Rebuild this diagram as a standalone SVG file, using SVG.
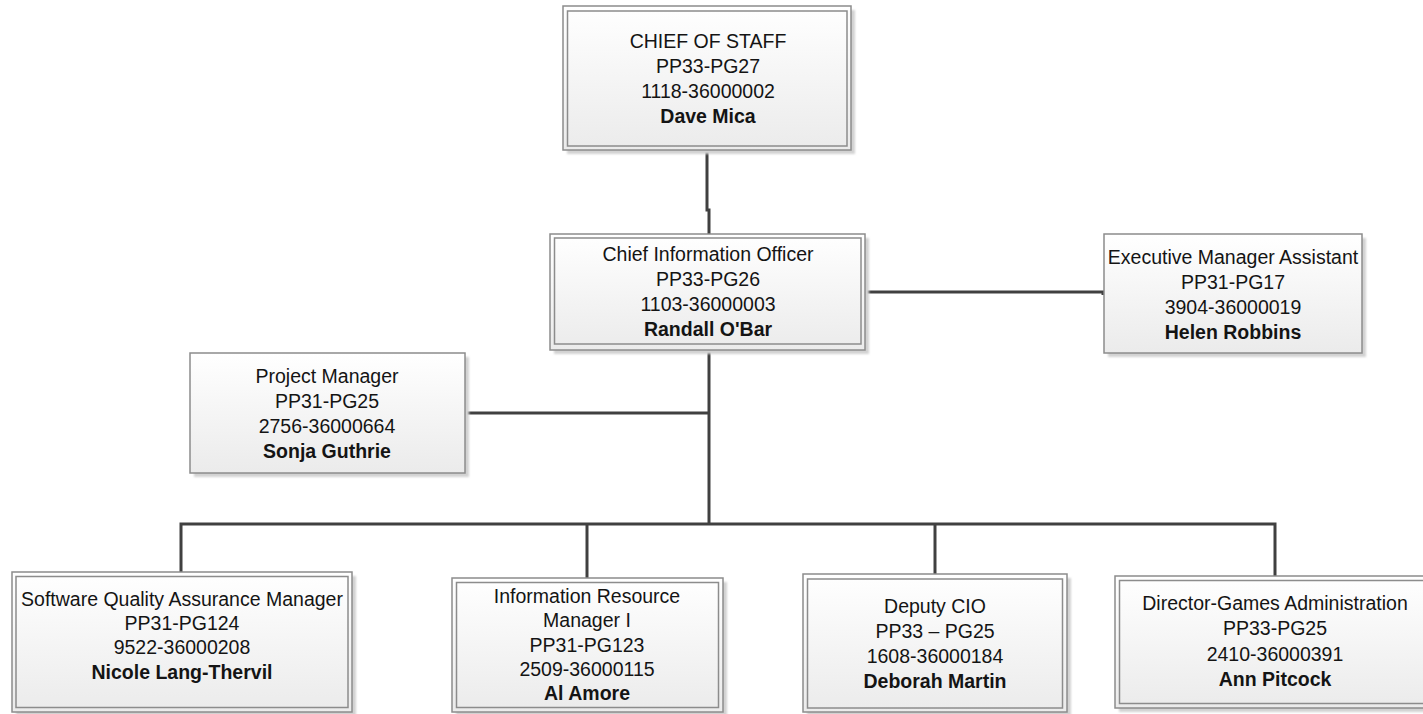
<svg xmlns="http://www.w3.org/2000/svg" width="1423" height="714" viewBox="0 0 1423 714">
  <style>
    .box { fill: url(#boxFill); stroke: #8c8c8c; stroke-width: 1.5; }
    .inner { fill: none; stroke: #8c8c8c; stroke-width: 1.5; }
    .shadow { fill: #d2d2d2; filter: url(#soft); }
    .lbl { font-family: "Liberation Sans", Arial, sans-serif; font-size: 19.5px; fill: #141414; text-anchor: middle; }
    .name { font-weight: bold; }
    .wire { fill: none; stroke: #404040; stroke-width: 3; stroke-linejoin: miter; }
  </style>
  <defs>
    <linearGradient id="boxFill" x1="0" y1="0" x2="0" y2="1">
      <stop offset="0" stop-color="#ffffff"/>
      <stop offset="1" stop-color="#ebebeb"/>
    </linearGradient>
    <filter id="soft" x="-5%" y="-5%" width="110%" height="110%">
      <feGaussianBlur stdDeviation="1.2"/>
    </filter>
  </defs>
  <rect width="1423" height="714" fill="#ffffff"/>

  <!-- reporting lines -->
  <g id="connectors">
    <polyline class="wire" points="707,150 707,210 709,210 709,234"/>
    <polyline class="wire" points="865,292 1103,292 1103,295"/>
    <line class="wire" x1="709" y1="350" x2="709" y2="524"/>
    <line class="wire" x1="465" y1="413" x2="709" y2="413"/>
    <polyline class="wire" points="181,572 181,524 1275,524 1275,576"/>
    <line class="wire" x1="587" y1="524" x2="587" y2="578"/>
    <line class="wire" x1="935" y1="524" x2="935" y2="574"/>
  </g>

  <g id="chief-of-staff">
    <rect class="shadow" x="567" y="10" width="288" height="144"/>
    <rect class="box" x="563" y="6" width="288" height="144"/>
    <rect class="inner" x="567.5" y="11" width="279.5" height="135"/>
    <text class="lbl" x="708" y="48">CHIEF OF STAFF</text>
    <text class="lbl" x="708" y="73">PP33-PG27</text>
    <text class="lbl" x="708" y="98">1118-36000002</text>
    <text class="lbl name" x="708" y="123">Dave Mica</text>
  </g>

  <g id="cio">
    <rect class="shadow" x="554" y="238" width="315" height="116"/>
    <rect class="box" x="550" y="234" width="315" height="116"/>
    <rect class="inner" x="554.5" y="238" width="306.5" height="106"/>
    <text class="lbl" x="708" y="261">Chief Information Officer</text>
    <text class="lbl" x="708" y="286">PP33-PG26</text>
    <text class="lbl" x="708" y="311">1103-36000003</text>
    <text class="lbl name" x="708" y="336">Randall O'Bar</text>
  </g>

  <g id="exec-assistant">
    <rect class="shadow" x="1108" y="238" width="258" height="119"/>
    <rect class="box" x="1104" y="234" width="258" height="119"/>
    <text class="lbl" x="1233" y="264">Executive Manager Assistant</text>
    <text class="lbl" x="1233" y="289">PP31-PG17</text>
    <text class="lbl" x="1233" y="314">3904-36000019</text>
    <text class="lbl name" x="1233" y="339">Helen Robbins</text>
  </g>

  <g id="project-manager">
    <rect class="shadow" x="194" y="357" width="275" height="120"/>
    <rect class="box" x="190" y="353" width="275" height="120"/>
    <text class="lbl" x="327" y="383">Project Manager</text>
    <text class="lbl" x="327" y="408">PP31-PG25</text>
    <text class="lbl" x="327" y="433">2756-36000664</text>
    <text class="lbl name" x="327" y="458">Sonja Guthrie</text>
  </g>

  <g id="sqa-manager">
    <rect class="shadow" x="16" y="576" width="340" height="140"/>
    <rect class="box" x="12" y="572" width="340" height="140"/>
    <rect class="inner" x="16" y="576.5" width="332" height="131"/>
    <text class="lbl" x="182" y="606">Software Quality Assurance Manager</text>
    <text class="lbl" x="182" y="630">PP31-PG124</text>
    <text class="lbl" x="182" y="654">9522-36000208</text>
    <text class="lbl name" x="182" y="679">Nicole Lang-Thervil</text>
  </g>

  <g id="info-resource-manager">
    <rect class="shadow" x="456" y="582" width="271" height="134"/>
    <rect class="box" x="452" y="578" width="271" height="134"/>
    <rect class="inner" x="456.5" y="582.5" width="262" height="125"/>
    <text class="lbl" x="587" y="603">Information Resource</text>
    <text class="lbl" x="587" y="627">Manager I</text>
    <text class="lbl" x="587" y="652">PP31-PG123</text>
    <text class="lbl" x="587" y="676">2509-36000115</text>
    <text class="lbl name" x="587" y="700">Al Amore</text>
  </g>

  <g id="deputy-cio">
    <rect class="shadow" x="807" y="578" width="264" height="138"/>
    <rect class="box" x="803" y="574" width="264" height="138"/>
    <rect class="inner" x="807.5" y="579" width="255" height="129"/>
    <text class="lbl" x="935" y="613">Deputy CIO</text>
    <text class="lbl" x="935" y="638">PP33 – PG25</text>
    <text class="lbl" x="935" y="663">1608-36000184</text>
    <text class="lbl name" x="935" y="688">Deborah Martin</text>
  </g>

  <g id="games-director">
    <rect class="shadow" x="1119" y="580" width="320" height="132"/>
    <rect class="box" x="1115" y="576" width="320" height="132"/>
    <rect class="inner" x="1119.5" y="580.5" width="311" height="123"/>
    <text class="lbl" x="1275" y="610">Director-Games Administration</text>
    <text class="lbl" x="1275" y="635">PP33-PG25</text>
    <text class="lbl" x="1275" y="661">2410-36000391</text>
    <text class="lbl name" x="1275" y="686">Ann Pitcock</text>
  </g>
</svg>
